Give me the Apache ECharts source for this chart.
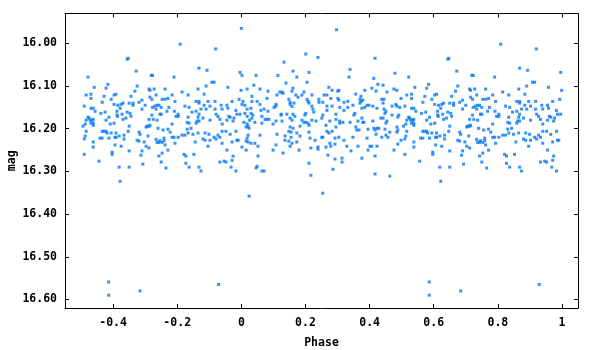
<!DOCTYPE html>
<html>
<head>
<meta charset="utf-8">
<script src="https://cdn.jsdelivr.net/npm/echarts@6/dist/echarts.min.js"></script>
<style>
  html, body { margin: 0; padding: 0; background: #fff; }
  #main { width: 600px; height: 350px; }
</style>
</head>
<body>
<div id="main"></div>
<script>
// 相位折叠光变曲线：每个点是 [phase, mag]，phase 在 [-0.5, 0.5)
const bandLeft = [
  [-0.353,16.035],[-0.356,16.037],[-0.328,16.065],[-0.281,16.075],[-0.277,16.075],[-0.210,16.079],[-0.478,16.079],[-0.416,16.096],
  [-0.459,16.103],[-0.422,16.105],[-0.325,16.100],[-0.332,16.112],[-0.288,16.107],[-0.285,16.110],[-0.272,16.107],[-0.238,16.107],
  [-0.484,16.121],[-0.469,16.119],[-0.428,16.124],[-0.397,16.121],[-0.391,16.119],[-0.344,16.124],[-0.469,16.129],[-0.406,16.131],
  [-0.266,16.121],[-0.247,16.131],[-0.238,16.131],[-0.229,16.129],[-0.216,16.121],[-0.185,16.114],[-0.166,16.121],[-0.285,16.126],
  [-0.279,16.131],[-0.310,16.133],[-0.319,16.138],[-0.434,16.138],[-0.369,16.140],[-0.375,16.143],[-0.385,16.145],[-0.397,16.143],
  [-0.350,16.140],[-0.338,16.140],[-0.338,16.145],[-0.300,16.145],[-0.277,16.150],[-0.270,16.147],[-0.263,16.145],[-0.257,16.145],
  [-0.266,16.154],[-0.250,16.150],[-0.207,16.136],[-0.226,16.150],[-0.176,16.147],[-0.490,16.147],[-0.469,16.152],[-0.462,16.152],
  [-0.378,16.152],[-0.388,16.159],[-0.456,16.159],[-0.425,16.161],[-0.438,16.164],[-0.310,16.154],[-0.232,16.159],[-0.209,16.159],
  [-0.163,16.150],[-0.356,16.161],[-0.347,16.164],[-0.372,16.166],[-0.254,16.166],[-0.250,16.166],[-0.197,16.166],[-0.204,16.171],
  [-0.197,16.171],[-0.388,16.168],[-0.386,16.171],[-0.478,16.173],[-0.475,16.175],[-0.484,16.180],[-0.472,16.180],[-0.466,16.180],
  [-0.462,16.178],[-0.413,16.173],[-0.422,16.180],[-0.344,16.171],[-0.360,16.175],[-0.369,16.178],[-0.288,16.178],[-0.275,16.178],
  [-0.263,16.180],[-0.279,16.168],[-0.166,16.173],[-0.409,16.189],[-0.397,16.187],[-0.462,16.187],[-0.462,16.192],[-0.469,16.187],
  [-0.487,16.189],[-0.494,16.194],[-0.216,16.189],[-0.169,16.185],[-0.163,16.187],[-0.294,16.194],[-0.288,16.194],[-0.297,16.196],
  [-0.285,16.192],[-0.350,16.194],[-0.260,16.199],[-0.229,16.201],[-0.244,16.203],[-0.169,16.201],[-0.484,16.206],[-0.434,16.206],
  [-0.428,16.206],[-0.422,16.206],[-0.419,16.210],[-0.406,16.210],[-0.391,16.210],[-0.353,16.206],[-0.319,16.208],[-0.316,16.213],
  [-0.222,16.208],[-0.176,16.215],[-0.185,16.215],[-0.166,16.210],[-0.487,16.217],[-0.490,16.224],[-0.441,16.222],[-0.434,16.222],
  [-0.413,16.222],[-0.394,16.220],[-0.391,16.220],[-0.366,16.215],[-0.366,16.224],[-0.381,16.217],[-0.291,16.217],[-0.266,16.225],
  [-0.254,16.228],[-0.263,16.232],[-0.257,16.232],[-0.247,16.232],[-0.241,16.222],[-0.241,16.228],[-0.216,16.220],[-0.210,16.220],
  [-0.197,16.220],[-0.325,16.227],[-0.319,16.229],[-0.303,16.231],[-0.207,16.234],[-0.462,16.231],[-0.394,16.238],[-0.375,16.241],
  [-0.297,16.241],[-0.288,16.245],[-0.238,16.238],[-0.462,16.243],[-0.350,16.252],[-0.310,16.252],[-0.313,16.262],[-0.229,16.250],
  [-0.247,16.257],[-0.257,16.264],[-0.403,16.255],[-0.403,16.260],[-0.490,16.260],[-0.179,16.260],[-0.173,16.264],[-0.444,16.276],
  [-0.250,16.278],[-0.307,16.283],[-0.173,16.281],[-0.381,16.290],[-0.350,16.290],[-0.235,16.292],[-0.163,16.290],[-0.378,16.323]
]

const bandMid = [
  [0.133,16.044],[-0.132,16.058],[-0.107,16.063],[-0.004,16.068],[0.002,16.075],[0.046,16.075],[0.114,16.075],[0.161,16.065],
  [0.139,16.093],[-0.092,16.091],[-0.085,16.091],[-0.110,16.100],[0.039,16.098],[-0.135,16.107],[-0.042,16.103],[-0.001,16.110],
  [0.018,16.107],[0.058,16.107],[0.083,16.112],[-0.116,16.119],[0.033,16.124],[0.111,16.121],[0.120,16.114],[0.127,16.114],
  [0.130,16.117],[0.158,16.112],[0.161,16.105],[0.080,16.129],[-0.007,16.131],[-0.141,16.136],[-0.132,16.136],[-0.132,16.140],
  [-0.104,16.136],[-0.082,16.136],[-0.029,16.136],[0.005,16.136],[0.002,16.143],[0.011,16.145],[0.033,16.136],[0.049,16.136],
  [0.058,16.143],[0.108,16.143],[0.108,16.147],[0.148,16.131],[0.152,16.138],[0.152,16.143],[0.164,16.140],[0.158,16.148],
  [-0.116,16.145],[-0.098,16.147],[-0.063,16.145],[-0.045,16.145],[-0.042,16.152],[-0.060,16.154],[-0.082,16.154],[-0.110,16.154],
  [-0.017,16.157],[0.018,16.154],[-0.141,16.159],[-0.154,16.161],[-0.126,16.154],[0.030,16.152],[0.071,16.154],[0.061,16.157],
  [0.083,16.159],[0.102,16.150],[0.124,16.166],[0.124,16.168],[0.142,16.166],[0.152,16.175],[0.161,16.166],[0.158,16.180],
  [-0.132,16.166],[-0.079,16.166],[-0.073,16.171],[-0.067,16.178],[-0.039,16.171],[-0.035,16.173],[-0.004,16.166],[-0.014,16.166],
  [-0.023,16.175],[0.011,16.164],[0.018,16.171],[0.030,16.164],[0.036,16.168],[0.033,16.175],[0.064,16.171],[0.074,16.178],
  [0.080,16.178],[0.086,16.178],[-0.135,16.173],[-0.120,16.175],[-0.098,16.180],[-0.045,16.180],[-0.026,16.182],[0.026,16.180],
  [0.042,16.185],[0.008,16.185],[0.064,16.187],[0.099,16.189],[0.108,16.182],[0.127,16.182],[-0.138,16.182],[-0.132,16.182],
  [-0.141,16.187],[-0.060,16.189],[0.018,16.189],[0.021,16.194],[0.024,16.199],[0.015,16.196],[0.152,16.196],[0.161,16.199],
  [-0.157,16.199],[-0.060,16.206],[-0.048,16.206],[-0.017,16.206],[-0.135,16.210],[-0.113,16.210],[-0.151,16.213],[-0.101,16.213],
  [-0.073,16.215],[-0.085,16.220],[-0.067,16.220],[-0.079,16.224],[-0.035,16.213],[0.021,16.215],[0.058,16.215],[0.111,16.213],
  [0.136,16.217],[0.136,16.227],[0.148,16.206],[0.155,16.208],[-0.120,16.224],[-0.113,16.227],[-0.098,16.227],[-0.010,16.227],
  [-0.014,16.227],[0.018,16.222],[0.015,16.229],[-0.144,16.231],[-0.060,16.234],[-0.029,16.231],[0.021,16.231],[0.030,16.234],
  [0.042,16.234],[0.148,16.229],[0.158,16.234],[-0.104,16.241],[0.002,16.243],[0.015,16.250],[0.052,16.241],[0.108,16.238],
  [0.152,16.241],[-0.045,16.250],[0.099,16.250],[0.130,16.257],[-0.148,16.260],[-0.026,16.264],[0.052,16.264],[-0.029,16.274],
  [-0.067,16.278],[-0.054,16.276],[-0.048,16.278],[-0.132,16.290],[-0.032,16.290],[0.046,16.292],[0.049,16.288],[-0.126,16.299],
  [-0.017,16.299],[0.064,16.299],[0.071,16.299],[0.024,16.358]
]

const bandRight = [
  [0.201,16.025],[0.239,16.033],[0.417,16.035],[0.211,16.068],[0.173,16.079],[0.339,16.061],[0.336,16.079],[0.413,16.082],
  [0.479,16.070],[0.205,16.091],[0.426,16.096],[0.442,16.098],[0.273,16.103],[0.283,16.110],[0.304,16.110],[0.301,16.112],
  [0.385,16.110],[0.407,16.105],[0.420,16.112],[0.454,16.114],[0.476,16.107],[0.485,16.110],[0.195,16.114],[0.189,16.121],
  [0.170,16.121],[0.177,16.126],[0.220,16.121],[0.258,16.121],[0.267,16.121],[0.357,16.119],[0.373,16.124],[0.498,16.129],
  [0.205,16.131],[0.208,16.136],[0.211,16.140],[0.242,16.131],[0.242,16.138],[0.254,16.138],[0.279,16.129],[0.301,16.129],
  [0.304,16.133],[0.320,16.138],[0.332,16.136],[0.370,16.131],[0.373,16.136],[0.370,16.140],[0.379,16.133],[0.392,16.145],
  [0.398,16.145],[0.410,16.147],[0.438,16.131],[0.445,16.131],[0.442,16.140],[0.470,16.147],[0.482,16.143],[0.485,16.147],
  [0.220,16.147],[0.223,16.154],[0.226,16.161],[0.267,16.147],[0.283,16.147],[0.307,16.150],[0.332,16.150],[0.348,16.145],
  [0.376,16.152],[0.385,16.150],[0.423,16.152],[0.445,16.154],[0.451,16.159],[0.448,16.164],[0.494,16.150],[0.167,16.171],
  [0.201,16.164],[0.198,16.168],[0.254,16.168],[0.251,16.175],[0.267,16.157],[0.295,16.166],[0.320,16.157],[0.354,16.164],
  [0.351,16.168],[0.435,16.175],[0.442,16.175],[0.470,16.168],[0.488,16.173],[0.491,16.168],[0.189,16.180],[0.195,16.185],
  [0.201,16.185],[0.208,16.187],[0.211,16.192],[0.220,16.180],[0.233,16.182],[0.276,16.182],[0.295,16.178],[0.307,16.182],
  [0.317,16.185],[0.307,16.187],[0.339,16.185],[0.364,16.182],[0.376,16.175],[0.379,16.185],[0.382,16.185],[0.410,16.182],
  [0.454,16.182],[0.451,16.187],[0.183,16.194],[0.264,16.192],[0.295,16.196],[0.357,16.196],[0.360,16.203],[0.367,16.203],
  [0.395,16.201],[0.413,16.199],[0.423,16.199],[0.429,16.199],[0.417,16.203],[0.448,16.201],[0.485,16.196],[0.488,16.203],
  [0.485,16.208],[0.463,16.208],[0.267,16.206],[0.283,16.206],[0.173,16.210],[0.155,16.220],[0.211,16.208],[0.273,16.210],
  [0.420,16.213],[0.451,16.215],[0.183,16.217],[0.214,16.222],[0.230,16.227],[0.251,16.220],[0.254,16.220],[0.292,16.222],
  [0.304,16.220],[0.320,16.227],[0.348,16.220],[0.392,16.222],[0.438,16.220],[0.457,16.220],[0.498,16.227],[0.173,16.231],
  [0.276,16.234],[0.264,16.243],[0.279,16.241],[0.292,16.236],[0.239,16.243],[0.239,16.248],[0.217,16.245],[0.180,16.250],
  [0.329,16.241],[0.364,16.241],[0.401,16.241],[0.407,16.241],[0.423,16.241],[0.395,16.250],[0.342,16.252],[0.476,16.250],
  [0.488,16.236],[0.270,16.262],[0.376,16.269],[0.417,16.264],[0.292,16.271],[0.314,16.269],[0.314,16.278],[0.211,16.281],
  [0.286,16.295],[0.417,16.306],[0.463,16.311],[0.217,16.309],[0.254,16.351]
]

const outliers = [
  [-0.191,16.002],[-0.080,16.013],[0.000,15.965],[0.297,15.968],
  [-0.414,16.559],[-0.414,16.590],[-0.316,16.580],[-0.071,16.565]
]

const xTicks = [-0.4, -0.2, 0, 0.2, 0.4, 0.6, 0.8, 1]
const yTicks = [16.0, 16.1, 16.2, 16.3, 16.4, 16.5, 16.6]

// 折叠：phase < 0 的点在 phase+1 处再画一次
let points = []
bandLeft.concat(bandMid, bandRight, outliers).forEach(p => {
  points.push(p)
  if (p[0] < 0) points.push([p[0] + 1, p[1]])
})

const font = { fontFamily: 'DejaVu Sans Mono', fontWeight: 'bold', fontSize: 11.5, color: '#000' }
const line = { show: true, onZero: false, lineStyle: { color: '#000', width: 1 } }

function xAxisOf(pos, labels) {
  return {
    type: 'value', position: pos, min: -0.55, max: 1.05,
    axisLine: line,
    splitLine: { show: false },
    axisTick: { show: true, inside: true, length: 4, customValues: xTicks, lineStyle: { color: '#000' } },
    axisLabel: Object.assign({ show: labels, margin: 9, customValues: xTicks,
      formatter: v => String(Math.round(v * 10) / 10) }, font),
    name: labels ? 'Phase' : '', nameLocation: 'middle', nameGap: 29, nameMoveOverlap: false,
    nameTextStyle: font
  }
}
function yAxisOf(pos, labels) {
  return {
    type: 'value', position: pos, inverse: true, min: 15.93, max: 16.62,
    axisLine: line,
    splitLine: { show: false },
    axisTick: { show: true, inside: true, length: 4, customValues: yTicks, lineStyle: { color: '#000' } },
    axisLabel: Object.assign({ show: labels, margin: 8, customValues: yTicks,
      formatter: v => v.toFixed(2) }, font),
    name: labels ? 'mag' : '', nameLocation: 'middle', nameGap: 47, nameRotate: 90, nameMoveOverlap: false,
    nameTextStyle: font
  }
}

var myChart = echarts.init(document.getElementById('main'), null, { renderer: 'canvas' })

var option = {
  animation: false,
  grid: { left: 65, right: 22, top: 13.5, bottom: 42, containLabel: false, outerBoundsMode: 'none' },
  xAxis: [xAxisOf('bottom', true), xAxisOf('top', false)],
  yAxis: [yAxisOf('left', true), yAxisOf('right', false)],
  series: [
    {
      type: 'scatter',
      xAxisIndex: 0,
      yAxisIndex: 0,
      symbol: 'rect',
      symbolSize: 3,
      itemStyle: { color: '#0478f5' },
      data: points,
    },
  ],
}

myChart.setOption(option)
</script>
</body>
</html>
